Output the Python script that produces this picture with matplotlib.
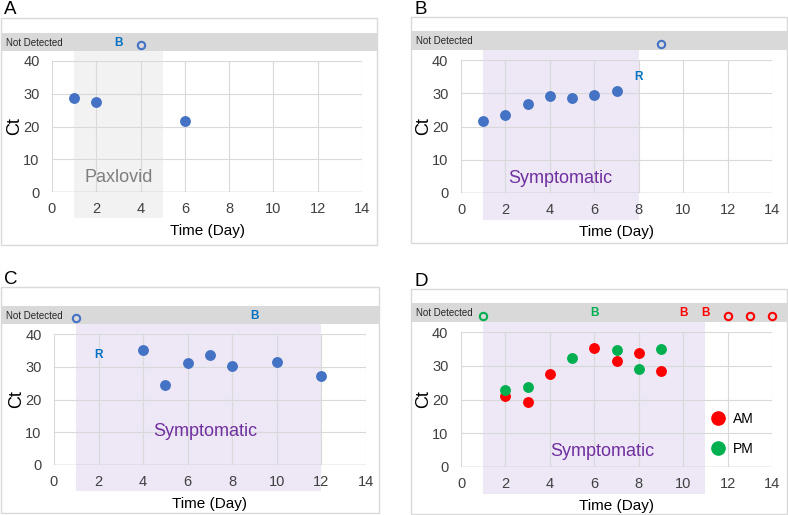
import matplotlib.pyplot as plt
from matplotlib.patches import Rectangle
from matplotlib.transforms import blended_transform_factory

plt.rcParams['font.family'] = ['Liberation Sans', 'DejaVu Sans']

# --- data ---
days_a = [1, 2, 6]
ct_a = [28.7, 27.4, 21.8]
nd_a = [4]
days_b = [1, 2, 3, 4, 5, 6, 7]
ct_b = [21.6, 23.6, 26.7, 29.2, 28.7, 29.4, 30.7]
nd_b = [9]
days_c = [4, 5, 6, 7, 8, 10, 12]
ct_c = [35.0, 24.5, 31.0, 33.6, 30.1, 31.5, 27.3]
nd_c = [1]
days_am = [2, 3, 4, 6, 7, 8, 9]
ct_am = [21.1, 19.2, 27.6, 35.2, 31.5, 33.8, 28.4]
nd_am = [12, 13, 14]
days_pm = [2, 3, 5, 7, 8, 9]
ct_pm = [22.7, 23.8, 32.3, 34.7, 29.1, 35.0]
nd_pm = [1]

blue = '#4472c4'
letter_blue = '#0070c0'
red = '#ff0000'
green = '#00b050'
grid_c = '#d9d9d9'
band_c = '#d9d9d9'
nd_y = 44.8

fig = plt.figure(figsize=(7.88, 5.15), dpi=100)
W, H = 788, 515


def px_axes(x0, x1, ytop, ybot):
    return [x0 / W, 1 - ybot / H, (x1 - x0) / W, (ybot - ytop) / H]


def panel(letter, axpx, boxpx, shade, shade_color, shade_text, text_color, text_xy):
    ax = fig.add_axes(px_axes(*axpx))
    ax.set_xlim(0, 14)
    ax.set_ylim(0, 40)
    for s in ax.spines.values():
        s.set_visible(False)
    ax.set_xticks(range(0, 15, 2))
    ax.set_yticks(range(0, 41, 10))
    ax.tick_params(length=0, labelsize=10.5, labelcolor='#404040')
    ax.tick_params(axis='x', pad=7)
    ax.tick_params(axis='y', pad=9)
    ax.grid(True, color=grid_c, lw=0.8)
    ax.axhline(0, color='#bfbfbf', lw=1, zorder=1)
    ax.set_axisbelow(True)
    ax.set_xlabel('Time (Day)', fontsize=11, labelpad=6)
    ax.set_ylabel('Ct', fontsize=13, labelpad=0)

    # panel frame and "not detected" band in figure pixels
    bx0, by0, bx1, by1 = boxpx
    fig.patches.append(Rectangle((bx0 / W, 1 - by1 / H), (bx1 - bx0) / W, (by1 - by0) / H,
                                 transform=fig.transFigure, fill=False,
                                 ec='#d9d9d9', lw=1, zorder=0))
    tr = blended_transform_factory(fig.transFigure, ax.transData)
    ax.add_patch(Rectangle((bx0 / W, 43), (bx1 - bx0) / W, 5.6, transform=tr,
                           color=band_c, clip_on=False, zorder=0.5, lw=0))
    ax.text((bx0 + 5) / W, 45.6, 'Not Detected', transform=tr, fontsize=7,
            va='center', ha='left', color='#262626')

    ax.add_patch(Rectangle((shade[0], -8), shade[1] - shade[0], 51, color=shade_color,
                           clip_on=False, zorder=0, lw=0))
    ax.text(text_xy[0], text_xy[1], shade_text, fontsize=13, color=text_color,
            ha='center', va='center')
    fig.text((bx0 + 3) / W, 1 - (by0 - 8) / H, letter, fontsize=13.5, va='center', ha='left')
    return ax


def flag(ax, x, y, s, color):
    ax.text(x, y, s, color=color, fontsize=8.5, fontweight='bold',
            ha='center', va='center', clip_on=False)


# A
ax = panel('A', (52, 362, 61, 192), (1, 18, 377, 245), (1, 5), '#f2f2f2',
           'Paxlovid', '#7f7f7f', (3, 4.5))
ax.plot(days_a, ct_a, 'o', color=blue, ms=6.8, clip_on=False)
ax.plot(nd_a, [nd_y] * len(nd_a), 'o', mfc='none', mec=blue, mew=1.5, ms=5.3, clip_on=False)
flag(ax, 3, 45.6, 'B', letter_blue)

# B
ax = panel('B', (461, 772, 60, 193), (411, 17, 787, 243), (1, 8), '#ede7f6',
           'Symptomatic', '#7030a0', (4.45, 4.5))
ax.plot(days_b, ct_b, 'o', color=blue, ms=6.8, clip_on=False)
ax.plot(nd_b, [nd_y] * len(nd_b), 'o', mfc='none', mec=blue, mew=1.5, ms=5.3, clip_on=False)
flag(ax, 8, 34.9, 'R', letter_blue)

# C
ax = panel('C', (54, 366, 334, 465), (1, 287, 379, 513), (1, 12), '#ede7f6',
           'Symptomatic', '#7030a0', (6.8, 10.3))
ax.plot(days_c, ct_c, 'o', color=blue, ms=6.8, clip_on=False)
ax.plot(nd_c, [nd_y] * len(nd_c), 'o', mfc='none', mec=blue, mew=1.5, ms=5.3, clip_on=False)
flag(ax, 2, 33.6, 'R', letter_blue)
flag(ax, 9, 45.6, 'B', letter_blue)

# D
ax = panel('D', (461, 772, 332, 467), (411, 289, 787, 514), (1, 11), '#ede7f6',
           'Symptomatic', '#7030a0', (6.35, 4.7))
ax.plot(days_am, ct_am, 'o', color=red, ms=6.8, label='AM', clip_on=False)
ax.plot(days_pm, ct_pm, 'o', color=green, ms=6.8, label='PM', clip_on=False)
ax.plot(nd_am, [nd_y] * len(nd_am), 'o', mfc='none', mec=red, mew=1.5, ms=5.3, clip_on=False)
ax.plot(nd_pm, [nd_y] * len(nd_pm), 'o', mfc='none', mec=green, mew=1.5, ms=5.3, clip_on=False)
flag(ax, 6, 45.6, 'B', green)
flag(ax, 10, 45.6, 'B', red)
flag(ax, 11, 45.6, 'B', red)
ax.legend(loc='upper left', bbox_to_anchor=(0.804, 0.41), frameon=False, fontsize=10,
          markerscale=1.4, handlelength=1.0, handletextpad=0.6, borderpad=0,
          labelspacing=1.15, borderaxespad=0)

fig.savefig('out.png', dpi=100)
